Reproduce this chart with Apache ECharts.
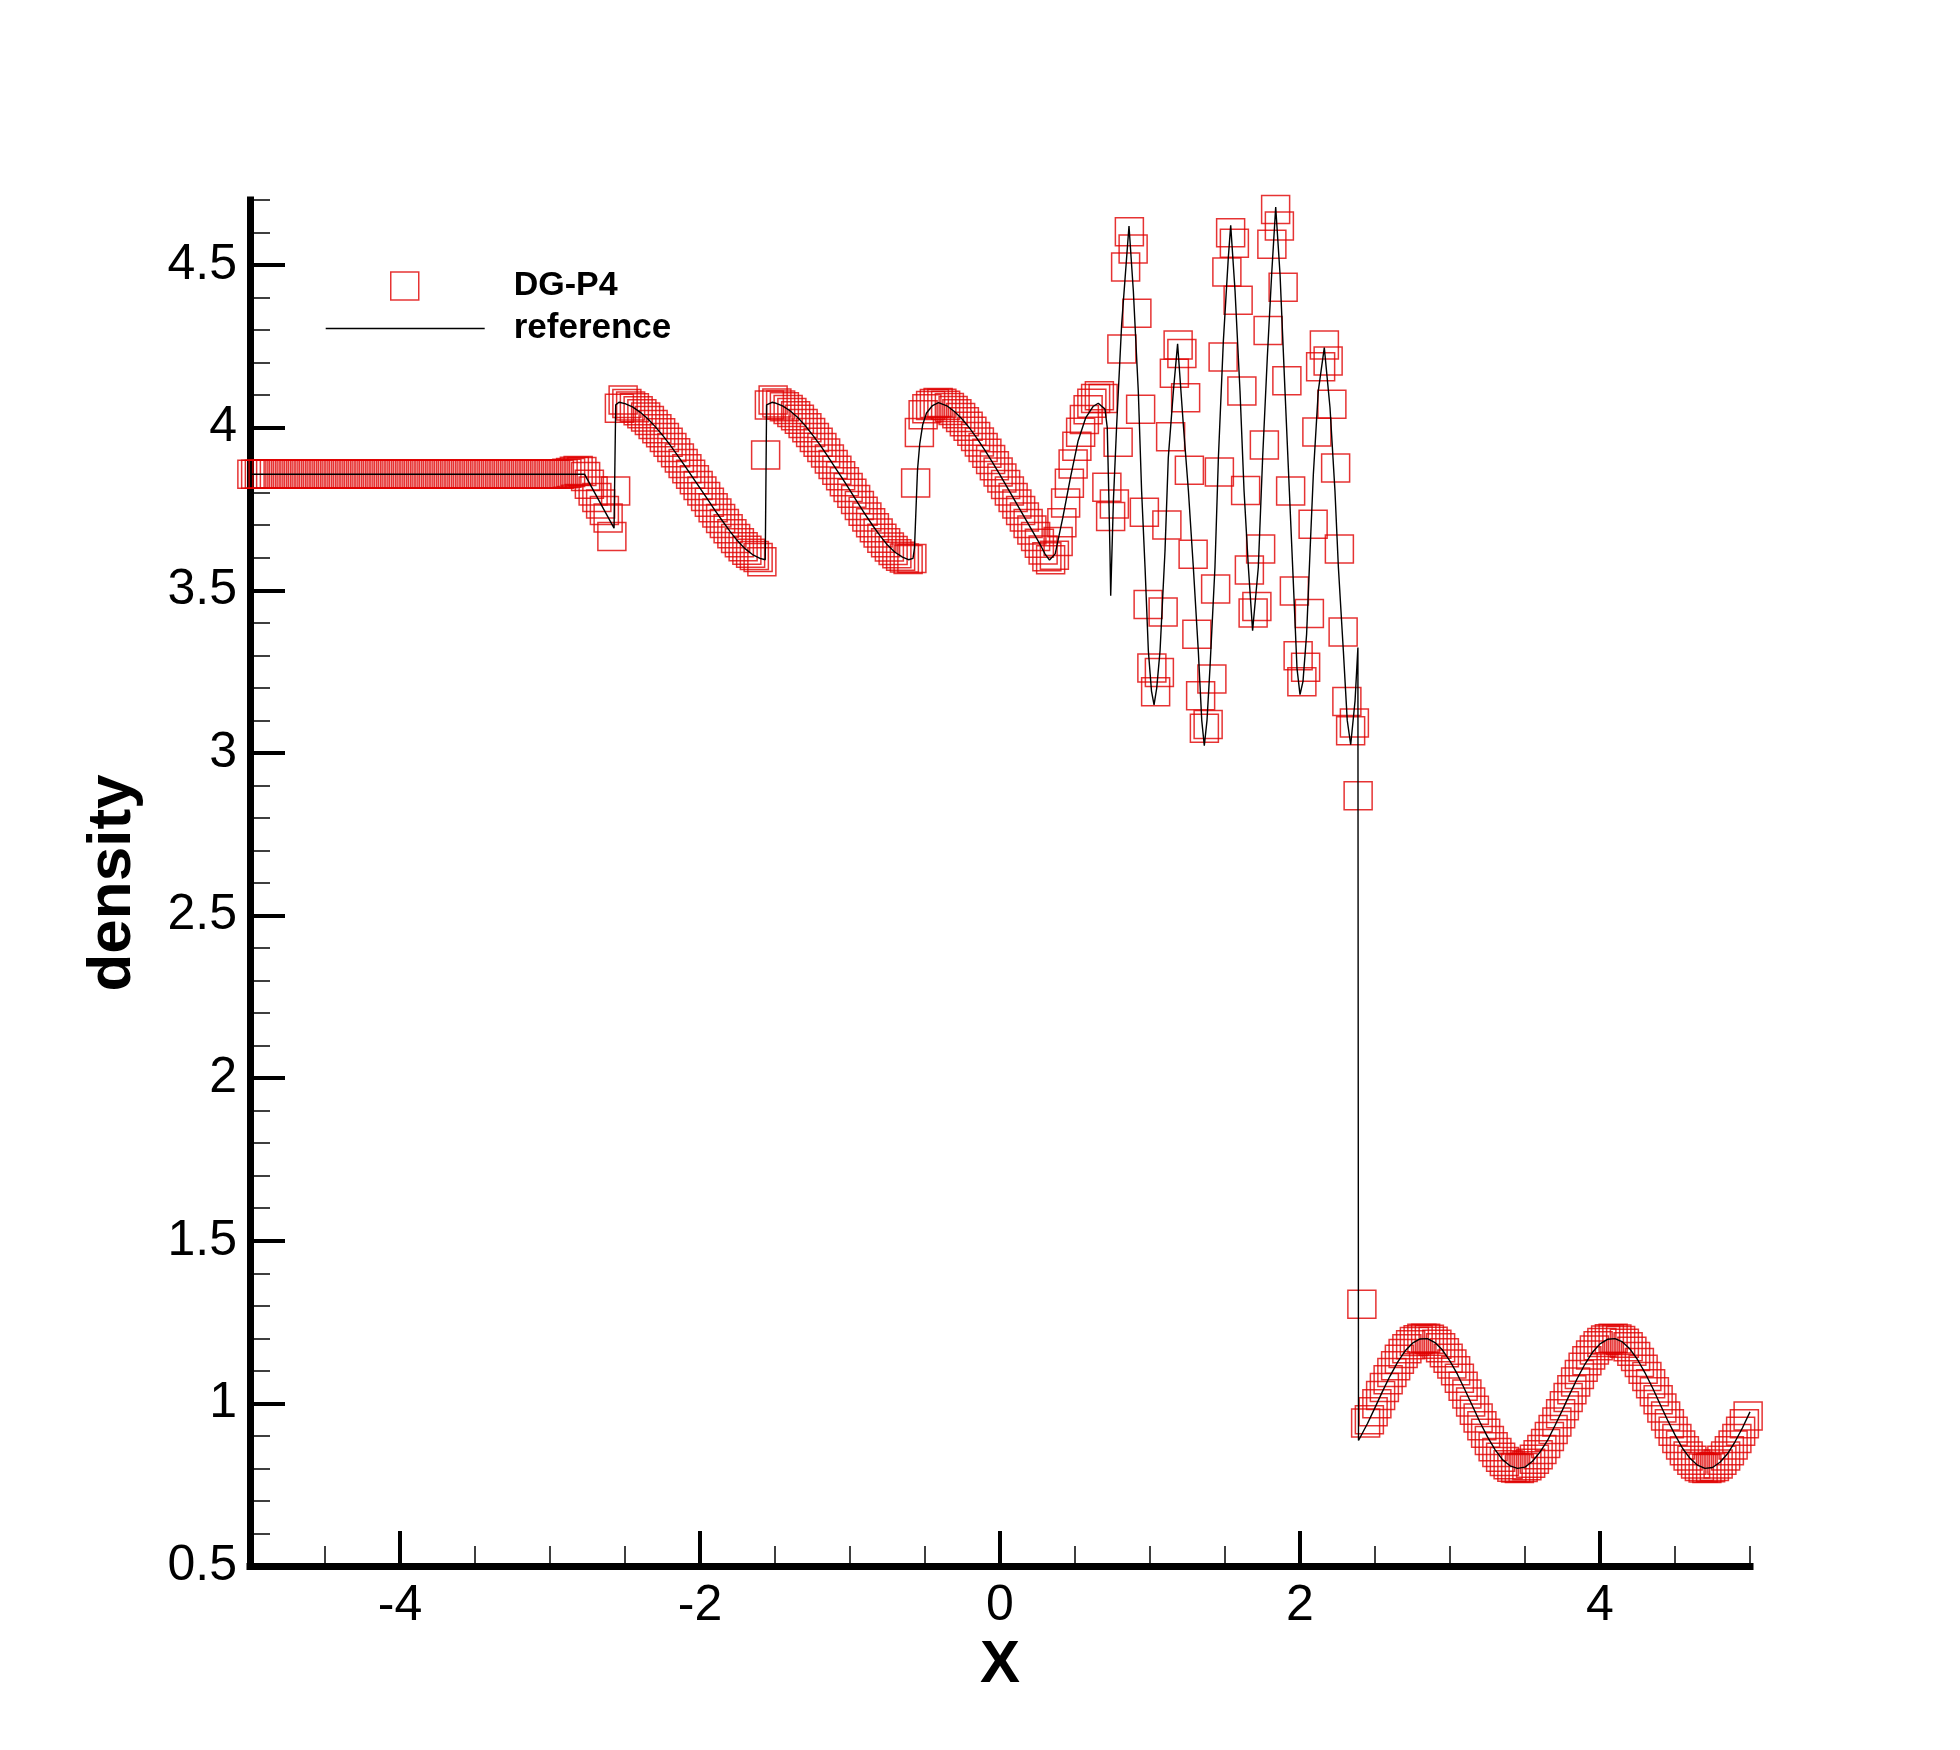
<!DOCTYPE html>
<html>
<head>
<meta charset="utf-8">
<script src="https://cdn.jsdelivr.net/npm/echarts@6/dist/echarts.min.js"></script>
<style>html,body{margin:0;padding:0;background:#fff}#c{width:1960px;height:1750px}</style>
</head>
<body>
<div id="c"></div>
<script>
// ---- tick positions ----
const xMajorTicks = [-4, -2, 0, 2, 4];
const xMinorTicks = [-4.5, -3.5, -3, -2.5, -1.5, -1, -0.5, 0.5, 1, 1.5, 2.5, 3, 3.5, 4.5, 5];
const yMajorTicks = [0.5, 1, 1.5, 2, 2.5, 3, 3.5, 4, 4.5];
const yMinorTicks = [0.6,0.7,0.8,0.9,1.1,1.2,1.3,1.4,1.6,1.7,1.8,1.9,2.1,2.2,2.3,2.4,2.6,2.7,2.8,2.9,3.1,3.2,3.3,3.4,3.6,3.7,3.8,3.9,4.1,4.2,4.3,4.4,4.6,4.7];

// ---- DG-P4 cell values (x positions) ----
const dgX = [
-4.9875,-4.9625,-4.9375,-4.9125,-4.8875,-4.8625,-4.8375,-4.8125,-4.7875,-4.7625,-4.7375,-4.7125,-4.6875,-4.6625,-4.6375,-4.6125,-4.5875,-4.5625,-4.5375,-4.5125,-4.4875,-4.4625,-4.4375,-4.4125,-4.3875,-4.3625,-4.3375,-4.3125,-4.2875,-4.2625,-4.2375,-4.2125,-4.1875,-4.1625,-4.1375,-4.1125,-4.0875,-4.0625,-4.0375,-4.0125,
-3.9875,-3.9625,-3.9375,-3.9125,-3.8875,-3.8625,-3.8375,-3.8125,-3.7875,-3.7625,-3.7375,-3.7125,-3.6875,-3.6625,-3.6375,-3.6125,-3.5875,-3.5625,-3.5375,-3.5125,-3.4875,-3.4625,-3.4375,-3.4125,-3.3875,-3.3625,-3.3375,-3.3125,-3.2875,-3.2625,-3.2375,-3.2125,-3.1875,-3.1625,-3.1375,-3.1125,-3.0875,-3.0625,-3.0375,-3.0125,
-2.9875,-2.9625,-2.9375,-2.9125,-2.8875,-2.8625,-2.8375,-2.8125,-2.7875,-2.7625,-2.7375,-2.7125,-2.6875,-2.6625,-2.6375,-2.6125,-2.5875,-2.5625,-2.5375,-2.5125,-2.4875,-2.4625,-2.4375,-2.4125,-2.3875,-2.3625,-2.3375,-2.3125,-2.2875,-2.2625,-2.2375,-2.2125,-2.1875,-2.1625,-2.1375,-2.1125,-2.0875,-2.0625,-2.0375,-2.0125,
-1.9875,-1.9625,-1.9375,-1.9125,-1.8875,-1.8625,-1.8375,-1.8125,-1.7875,-1.7625,-1.7375,-1.7125,-1.6875,-1.6625,-1.6375,-1.6125,-1.5875,-1.5625,-1.5375,-1.5125,-1.4875,-1.4625,-1.4375,-1.4125,-1.3875,-1.3625,-1.3375,-1.3125,-1.2875,-1.2625,-1.2375,-1.2125,-1.1875,-1.1625,-1.1375,-1.1125,-1.0875,-1.0625,-1.0375,-1.0125,
-0.9875,-0.9625,-0.9375,-0.9125,-0.8875,-0.8625,-0.8375,-0.8125,-0.7875,-0.7625,-0.7375,-0.7125,-0.6875,-0.6625,-0.6375,-0.6125,-0.5875,-0.5625,-0.5375,-0.5125,-0.4875,-0.4625,-0.4375,-0.4125,-0.3875,-0.3625,-0.3375,-0.3125,-0.2875,-0.2625,-0.2375,-0.2125,-0.1875,-0.1625,-0.1375,-0.1125,-0.0875,-0.0625,-0.0375,-0.0125,
0.0125,0.0375,0.0625,0.0875,0.1125,0.1375,0.1625,0.1875,0.2125,0.2375,0.2625,0.2875,0.3125,0.3375,0.3625,0.3875,0.4125,0.4375,0.4625,0.4875,0.5125,0.5375,0.5625,0.5875,0.6125,0.6375,0.6625,0.6875,0.7125,0.7375,0.7625,0.7875,0.8125,0.8375,0.8625,0.8875,0.9125,0.9375,0.9625,0.9875,
1.0125,1.0375,1.0625,1.0875,1.1125,1.1375,1.1625,1.1875,1.2125,1.2375,1.2625,1.2875,1.3125,1.3375,1.3625,1.3875,1.4125,1.4375,1.4625,1.4875,1.5125,1.5375,1.5625,1.5875,1.6125,1.6375,1.6625,1.6875,1.7125,1.7375,1.7625,1.7875,1.8125,1.8375,1.8625,1.8875,1.9125,1.9375,1.9625,1.9875,
2.0125,2.0375,2.0625,2.0875,2.1125,2.1375,2.1625,2.1875,2.2125,2.2375,2.2625,2.2875,2.3125,2.3375,2.3625,2.3875,2.4125,2.4375,2.4625,2.4875,2.5125,2.5375,2.5625,2.5875,2.6125,2.6375,2.6625,2.6875,2.7125,2.7375,2.7625,2.7875,2.8125,2.8375,2.8625,2.8875,2.9125,2.9375,2.9625,2.9875,
3.0125,3.0375,3.0625,3.0875,3.1125,3.1375,3.1625,3.1875,3.2125,3.2375,3.2625,3.2875,3.3125,3.3375,3.3625,3.3875,3.4125,3.4375,3.4625,3.4875,3.5125,3.5375,3.5625,3.5875,3.6125,3.6375,3.6625,3.6875,3.7125,3.7375,3.7625,3.7875,3.8125,3.8375,3.8625,3.8875,3.9125,3.9375,3.9625,3.9875,
4.0125,4.0375,4.0625,4.0875,4.1125,4.1375,4.1625,4.1875,4.2125,4.2375,4.2625,4.2875,4.3125,4.3375,4.3625,4.3875,4.4125,4.4375,4.4625,4.4875,4.5125,4.5375,4.5625,4.5875,4.6125,4.6375,4.6625,4.6875,4.7125,4.7375,4.7625,4.7875,4.8125,4.8375,4.8625,4.8875,4.9125,4.9375,4.9625,4.9875
];

// ---- DG-P4 density values ----
const dgY = [
3.857,3.857,3.857,3.857,3.857,3.857,3.857,3.857,3.857,3.857,3.857,3.857,3.857,3.857,3.857,3.857,3.857,3.857,3.857,3.857,3.857,3.857,3.857,3.857,3.857,3.857,3.857,3.857,3.857,3.857,3.857,3.857,3.857,3.857,3.857,3.857,3.857,3.857,3.857,3.857,
3.857,3.857,3.857,3.857,3.857,3.857,3.857,3.857,3.857,3.857,3.857,3.857,3.857,3.857,3.857,3.857,3.857,3.857,3.857,3.857,3.857,3.857,3.857,3.857,3.857,3.857,3.857,3.857,3.857,3.857,3.857,3.857,3.857,3.857,3.857,3.857,3.857,3.857,3.857,3.857,
3.857,3.857,3.857,3.858,3.860,3.862,3.866,3.868,3.865,3.850,3.826,3.805,3.785,3.765,3.745,3.722,3.665,3.805,4.060,4.085,4.074,4.067,4.061,4.052,4.043,4.033,4.022,4.010,3.997,3.984,3.970,3.955,3.939,3.923,3.907,3.890,3.874,3.857,3.840,3.822,
3.805,3.788,3.771,3.754,3.738,3.721,3.705,3.689,3.674,3.659,3.646,3.634,3.623,3.614,3.607,3.601,3.588,3.916,4.070,4.085,4.076,4.070,4.064,4.056,4.047,4.037,4.026,4.013,4.000,3.985,3.970,3.955,3.939,3.922,3.904,3.887,3.869,3.852,3.834,3.816,
3.798,3.779,3.761,3.743,3.725,3.708,3.692,3.676,3.660,3.646,3.633,3.622,3.612,3.605,3.599,3.595,3.598,3.830,3.985,4.040,4.058,4.068,4.074,4.077,4.075,4.069,4.062,4.053,4.043,4.031,4.018,4.004,3.989,3.973,3.956,3.939,3.921,3.902,3.883,3.864,
3.845,3.825,3.805,3.785,3.765,3.745,3.725,3.705,3.685,3.665,3.645,3.624,3.603,3.594,3.608,3.650,3.708,3.768,3.829,3.888,3.943,3.986,4.025,4.055,4.075,4.090,4.098,4.090,3.817,3.727,3.765,3.955,4.242,4.494,4.602,4.549,4.352,4.057,3.740,3.456,
3.261,3.188,3.247,3.433,3.701,3.972,4.167,4.254,4.228,4.092,3.869,3.611,3.365,3.176,3.076,3.087,3.227,3.504,3.864,4.217,4.479,4.599,4.567,4.392,4.113,3.807,3.562,3.430,3.450,3.627,3.947,4.299,4.564,4.671,4.620,4.432,4.144,3.805,3.498,3.299,
3.219,3.263,3.429,3.703,3.987,4.187,4.254,4.205,4.072,3.876,3.627,3.372,3.158,3.068,3.092,2.868,1.305,0.940,0.950,0.974,0.999,1.024,1.049,1.073,1.095,1.116,1.136,1.153,1.168,1.180,1.190,1.196,1.200,1.200,1.197,1.191,1.182,1.171,1.156,1.139,
1.121,1.100,1.077,1.053,1.029,1.004,0.979,0.955,0.931,0.908,0.886,0.867,0.849,0.834,0.821,0.811,0.804,0.801,0.800,0.803,0.808,0.816,0.828,0.842,0.858,0.877,0.898,0.920,0.943,0.968,0.993,1.018,1.042,1.066,1.089,1.111,1.131,1.149,1.164,1.177,
1.187,1.195,1.199,1.200,1.198,1.193,1.185,1.174,1.160,1.144,1.126,1.105,1.083,1.060,1.036,1.011,0.986,0.961,0.937,0.914,0.892,0.872,0.854,0.838,0.825,0.814,0.806,0.801,0.800,0.802,0.806,0.814,0.825,0.838,0.854,0.872,0.892,0.914,0.937,0.961
];

// ---- reference solution [x, density] ----
const refLine = [
[-5.000,3.857],[-2.770,3.857],[-2.573,3.691],[-2.562,4.070],[-2.540,4.078],[-2.500,4.074],[-2.450,4.064],[-2.400,4.048],[-2.350,4.028],[-2.300,4.004],
[-2.250,3.977],[-2.200,3.947],[-2.150,3.915],[-2.100,3.882],[-2.050,3.848],[-2.000,3.814],[-1.950,3.780],[-1.900,3.746],[-1.850,3.713],[-1.800,3.681],
[-1.750,3.652],[-1.700,3.628],[-1.650,3.610],[-1.600,3.598],[-1.565,3.594],[-1.556,4.070],[-1.520,4.078],[-1.500,4.076],[-1.450,4.067],[-1.400,4.052],
[-1.350,4.032],[-1.300,4.007],[-1.250,3.978],[-1.200,3.947],[-1.150,3.913],[-1.100,3.878],[-1.050,3.843],[-1.000,3.807],[-0.950,3.770],[-0.900,3.734],
[-0.850,3.700],[-0.800,3.668],[-0.750,3.639],[-0.700,3.617],[-0.650,3.602],[-0.610,3.594],[-0.580,3.598],[-0.570,3.630],[-0.560,3.750],[-0.550,3.870],
[-0.535,3.950],[-0.515,4.010],[-0.490,4.045],[-0.450,4.068],[-0.410,4.077],[-0.350,4.066],[-0.300,4.048],[-0.250,4.025],[-0.200,3.997],[-0.150,3.965],
[-0.100,3.930],[-0.050,3.893],[0.000,3.855],[0.050,3.815],[0.100,3.775],[0.150,3.735],[0.200,3.695],[0.250,3.655],[0.280,3.630],[0.300,3.612],
[0.330,3.593],[0.368,3.612],[0.419,3.724],[0.470,3.847],[0.521,3.960],[0.572,4.031],[0.620,4.065],[0.655,4.075],[0.700,4.057],[0.715,4.000],
[0.725,3.800],[0.733,3.620],[0.738,3.483],[0.756,3.775],[0.778,4.010],[0.811,4.318],[0.844,4.522],[0.860,4.620],[0.889,4.420],[0.922,4.113],
[0.944,3.806],[0.967,3.570],[0.989,3.314],[1.010,3.190],[1.027,3.148],[1.045,3.200],[1.067,3.314],[1.100,3.621],[1.122,3.908],[1.156,4.113],
[1.184,4.258],[1.222,4.010],[1.256,3.806],[1.289,3.570],[1.322,3.314],[1.345,3.100],[1.362,3.022],[1.380,3.100],[1.400,3.263],[1.433,3.570],
[1.456,3.908],[1.489,4.266],[1.522,4.522],[1.538,4.622],[1.567,4.420],[1.600,4.113],[1.627,3.806],[1.656,3.570],[1.684,3.376],[1.722,3.570],
[1.751,3.908],[1.782,4.215],[1.811,4.471],[1.838,4.678],[1.867,4.471],[1.900,4.113],[1.929,3.806],[1.956,3.519],[1.980,3.260],[2.000,3.179],
[2.020,3.220],[2.044,3.365],[2.067,3.621],[2.089,3.857],[2.122,4.113],[2.162,4.246],[2.200,4.062],[2.233,3.806],[2.256,3.570],[2.289,3.314],
[2.315,3.100],[2.338,3.025],[2.367,3.160],[2.386,3.324],[2.390,0.886],[2.450,0.938],[2.500,0.987],[2.550,1.037],[2.600,1.084],[2.650,1.126],
[2.700,1.161],[2.750,1.185],[2.800,1.198],[2.850,1.199],[2.900,1.187],[2.950,1.164],[3.000,1.130],[3.050,1.089],[3.100,1.041],[3.150,0.992],
[3.200,0.942],[3.250,0.897],[3.300,0.858],[3.350,0.827],[3.400,0.808],[3.450,0.800],[3.500,0.804],[3.550,0.822],[3.600,0.850],[3.650,0.886],
[3.700,0.932],[3.750,0.980],[3.800,1.030],[3.850,1.078],[3.900,1.121],[3.950,1.157],[4.000,1.183],[4.050,1.197],[4.100,1.199],[4.150,1.189],
[4.200,1.167],[4.250,1.135],[4.300,1.094],[4.350,1.048],[4.400,0.998],[4.450,0.949],[4.500,0.903],[4.550,0.862],[4.600,0.831],[4.650,0.810],
[4.700,0.800],[4.750,0.803],[4.800,0.819],[4.850,0.845],[4.900,0.882],[4.950,0.925],[5.000,0.974]
];

const seriesNames = ['DG-P4', 'reference'];

const FONT = '"Liberation Sans", Arial, Helvetica, sans-serif';
const RED = '#e00000';

const dgData = dgX.map((x, i) => [x, dgY[i]]);

const chart = echarts.init(document.getElementById('c'), null, { renderer: 'canvas' });

const option = {
  animation: false,
  backgroundColor: '#ffffff',
  grid: { left: 250, right: 210, top: 200, bottom: 184, containLabel: false },
  xAxis: [
    {
      type: 'value', min: -5, max: 5, position: 'bottom',
      axisLine: { show: true, onZero: false, lineStyle: { color: '#000', width: 7, cap: 'square' } },
      axisTick: { show: true, inside: true, length: 35, customValues: xMajorTicks, lineStyle: { color: '#000', width: 4 } },
      axisLabel: { show: true, customValues: xMajorTicks, margin: 15, color: '#000', fontSize: 50, fontFamily: FONT },
      splitLine: { show: false },
      name: 'X', nameLocation: 'middle', nameGap: 62,
      nameTextStyle: { color: '#000', fontSize: 60, fontWeight: 'bold', fontFamily: FONT }
    },
    {
      type: 'value', min: -5, max: 5, position: 'bottom',
      axisLine: { show: false, onZero: false },
      axisTick: { show: true, inside: true, length: 20, customValues: xMinorTicks, lineStyle: { color: '#000', width: 1.5 } },
      axisLabel: { show: false },
      splitLine: { show: false }
    }
  ],
  yAxis: [
    {
      type: 'value', min: 0.5, max: 4.7, position: 'left',
      axisLine: { show: true, onZero: false, lineStyle: { color: '#000', width: 7, cap: 'square' } },
      axisTick: { show: true, inside: true, length: 35, customValues: yMajorTicks, lineStyle: { color: '#000', width: 4 } },
      axisLabel: { show: true, customValues: yMajorTicks, margin: 13, color: '#000', fontSize: 50, fontFamily: FONT },
      splitLine: { show: false },
      name: 'density', nameLocation: 'middle', nameRotate: 90, nameGap: 106,
      nameTextStyle: { color: '#000', fontSize: 62, fontWeight: 'bold', fontFamily: FONT }
    },
    {
      type: 'value', min: 0.5, max: 4.7, position: 'left',
      axisLine: { show: false, onZero: false },
      axisTick: { show: true, inside: true, length: 20, customValues: yMinorTicks, lineStyle: { color: '#000', width: 1.5 } },
      axisLabel: { show: false },
      splitLine: { show: false }
    }
  ],
  legend: [
    {
      show: true, selectedMode: false, padding: 0, left: 390, top: 269,
      data: [{ name: seriesNames[0], icon: 'rect' }],
      itemWidth: 28, itemHeight: 28,
      itemStyle: { color: 'rgba(0,0,0,0)', borderColor: RED, borderWidth: 1.5 },
      formatter: n => '{g| }{t|' + n + '}',
      textStyle: { rich: { g: { width: 90 }, t: { fontSize: 34, fontWeight: 'bold', color: '#000', fontFamily: FONT } } }
    },
    {
      show: true, selectedMode: false, padding: 0, left: 325, top: 311,
      data: [{ name: seriesNames[1] }],
      itemWidth: 159, itemHeight: 14,
      lineStyle: { color: '#000', width: 1.4 },
      itemStyle: { opacity: 0 },
      formatter: n => '{g| }{t|' + n + '}',
      textStyle: { rich: { g: { width: 24 }, t: { fontSize: 35, fontWeight: 'bold', color: '#000', fontFamily: FONT } } }
    }
  ],
  series: [
    {
      name: seriesNames[0], type: 'scatter', xAxisIndex: 0, yAxisIndex: 0,
      data: dgData, symbol: 'rect', symbolSize: 28, clip: false, silent: true,
      itemStyle: { color: 'rgba(0,0,0,0)', borderColor: RED, borderWidth: 1.5 }
    },
    {
      name: seriesNames[1], type: 'line', xAxisIndex: 0, yAxisIndex: 0,
      data: refLine, symbol: 'none', showSymbol: false, clip: false, silent: true,
      lineStyle: { color: '#000', width: 1.4 }, itemStyle: { color: '#000' }
    }
  ]
};
chart.setOption(option);
</script>
</body>
</html>
